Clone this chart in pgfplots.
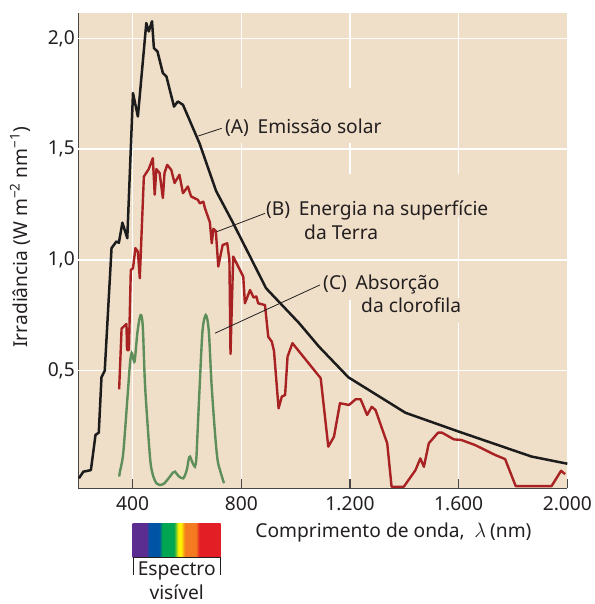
\documentclass[border=0pt]{standalone}
\usepackage{fontspec}
\setmainfont{Noto Sans}
\usepackage{pgfplots}
\pgfplotsset{compat=1.18}
\definecolor{bgc}{RGB}{240,223,200}
\definecolor{cA}{RGB}{28,28,28}
\definecolor{cB}{RGB}{168,34,36}
\definecolor{cC}{RGB}{94,143,90}
\definecolor{txt}{RGB}{35,31,32}
\definecolor{axc}{RGB}{70,70,70}
\definecolor{sPur}{RGB}{92,45,145}
\definecolor{sBlu}{RGB}{0,84,166}
\definecolor{sGre}{RGB}{0,166,81}
\definecolor{sYel}{RGB}{255,242,0}
\definecolor{sOra}{RGB}{244,123,32}
\definecolor{sRed}{RGB}{227,30,37}
\pgfdeclarehorizontalshading{spectrum}{100bp}{color(0bp)=(sPur); color(25bp)=(sPur); color(32.95bp)=(sPur);
 color(34.43bp)=(sBlu); color(40.11bp)=(sBlu); color(41.82bp)=(sGre); color(48.47bp)=(sGre);
 color(50.91bp)=(sYel); color(52.44bp)=(sYel); color(54.72bp)=(sOra); color(60.97bp)=(sOra);
 color(62.84bp)=(sRed); color(75bp)=(sRed); color(100bp)=(sRed)}
\newcommand\fs{\fontsize{19.2}{22}\selectfont}
\begin{document}
\begin{tikzpicture}[font=\fs]
\begin{axis}[
 scale only axis, width=488.9pt, height=475pt,
 xmin=200, xmax=2000, ymin=-0.031, ymax=2.113,
 axis lines=left, axis line style={-, axc, line width=1.2pt},
 xtick={400,800,1200,1600,2000}, xticklabels={400,800,1.200,1.600,2.000},
 ytick={0.5,1,1.5,2}, yticklabels={{0,5},{1,0},{1,5},{2,0}},
 tick style={axc, line width=1.2pt},
 major tick length=9pt,
 tick align=inside,
 xmajorgrids, grid style={white, line width=1.3pt},
 axis background/.style={fill=bgc},
 tick label style={font=\fs, text=txt},
 xticklabel style={yshift=-5pt},
 /pgf/number format/assume math mode=true,
 clip=false,
]
% masks behind labels (hide vertical grid lines)
\fill[bgc] (axis cs:728.7,1.5275) rectangle (axis cs:1328.9,1.7758);
\fill[bgc] (axis cs:879.6,1.1936) rectangle (axis cs:1737.6,1.3876);
\fill[bgc] (axis cs:1019.6,1.0221) rectangle (axis cs:1314.1,1.1936);
\fill[bgc] (axis cs:1089.5,0.8191) rectangle (axis cs:1553.5,1.0221);
\fill[bgc] (axis cs:1229.5,0.7153) rectangle (axis cs:1627.1,0.8281);
% horizontal grid lines
\draw[white, line width=1.3pt] (axis cs:200,0.5) -- (axis cs:2000,0.5);
\draw[white, line width=1.3pt] (axis cs:200,1) -- (axis cs:2000,1);
\draw[white, line width=1.3pt] (axis cs:200,1.5) -- (axis cs:2000,1.5);
\draw[white, line width=1.3pt] (axis cs:200,2) -- (axis cs:2000,2);

% (C) chlorophyll absorption
\addplot[cC, line width=2.4pt, smooth, tension=0.5] coordinates {
(350,0.022)(353,0.044)(365,0.127)(380,0.368)(390,0.533)(396,0.58)(400,0.565)
(404,0.545)(408,0.55)(418,0.68)(429,0.751)(437,0.70)(445,0.443)(457,0.217)
(466,0.08)(476,0.022)(487,-0.008)(498,-0.016)(515,-0.01)(537,0.022)(548,0.04)
(556,0.044)(568,0.025)(586,0.014)(599,0.052)(606,0.1)(611,0.112)(620,0.085)
(629,0.067)(634,0.1)(638,0.202)(647,0.443)(657,0.68)(669,0.751)(680,0.68)
(690,0.443)(703,0.217)(712,0.1)(721,0.052)(736,-0.008)};

% (B) energy at Earth's surface
\addplot[cB, line width=2.4pt, line join=round] coordinates {
(350,0.416)(359,0.69)(377,0.711)(379,0.593)(386,0.593)(393,0.955)(401,0.962)
(410,1.053)(419,1.037)(426,0.917)(441,1.376)(459,1.41)(474,1.459)(481,1.294)
(487,1.41)(499,1.392)(511,1.279)(517,1.392)(527,1.429)(542,1.406)(554,1.347)
(572,1.384)(585,1.301)(603,1.331)(615,1.286)(640,1.271)(647,1.255)(660,1.263)
(666,1.233)(684,1.17)(691,1.075)(697,1.14)(706,1.13)(715,0.97)(731,1.067)
(748,1.075)(756,1.0)(760,0.575)(770,1.015)(807,0.924)(813,0.804)(832,0.864)
(845,0.83)(855,0.835)(862,0.804)(887,0.796)(899,0.653)(912,0.631)(920,0.59)
(937,0.33)(949,0.383)(961,0.39)(970,0.563)(988,0.624)(1092,0.466)(1120,0.157)
(1141,0.202)(1163,0.353)(1196,0.345)(1221,0.371)(1239,0.371)(1263,0.30)
(1280,0.337)(1294,0.322)(1337,0.172)(1353,-0.024)(1398,-0.024)(1441,0.051)
(1459,0.104)(1472,0.066)(1490,0.172)(1524,0.22)(1539,0.22)(1582,0.19)
(1610,0.187)(1661,0.164)(1735,0.119)(1771,0.101)(1810,-0.021)(1942,-0.021)
(1977,0.048)(1992,0.033)};

% (A) solar emission
\addplot[cA, line width=2.5pt, line join=round] coordinates {
(202,0.014)(218,0.044)(246,0.051)(263,0.21)(275,0.22)(285,0.47)(297,0.50)
(322,1.053)(340,1.083)(349,1.077)(362,1.168)(380,1.098)(384,1.225)(401,1.753)
(419,1.647)(450,2.069)(459,2.031)(471,2.077)(478,1.956)(491,1.941)(511,1.843)
(524,1.828)(552,1.692)(566,1.715)(585,1.70)(646,1.526)(707,1.311)(768,1.17)
(830,1.02)(891,0.872)(1013,0.714)(1086,0.608)(1194,0.470)(1404,0.31)
(1600,0.225)(1869,0.112)(2000,0.08)};

% leaders and labels
\draw[txt, line width=0.8pt] (axis cs:641.5,1.559) -- (axis cs:727.6,1.594);
\draw[txt, line width=0.8pt] (axis cs:709.2,1.127) -- (axis cs:887,1.210);
\draw[txt, line width=0.8pt] (axis cs:703,0.669) -- (axis cs:1089.5,0.887);
\node[anchor=west, inner sep=0pt, text=txt] at (axis cs:739.8,1.595) {(A)\hspace{0.45em}Emissão solar};
\node[anchor=west, inner sep=0pt, text=txt] at (axis cs:890.7,1.221) {(B)\hspace{0.45em}Energia na superfície};
\node[anchor=west, inner sep=0pt, text=txt] at (axis cs:1030.6,1.126) {da Terra};
\node[anchor=west, inner sep=0pt, text=txt] at (axis cs:1100.7,0.887) {(C)\hspace{0.45em}Absorção};
\node[anchor=west, inner sep=0pt, text=txt] at (axis cs:1240.6,0.796) {da clorofila};

% axis labels
\node[text=txt] at (axis cs:1360,-0.232) {Comprimento de onda,\hspace{0.5em}$\lambda$\hspace{0.2em}(nm)};
\node[text=txt, rotate=90] at (axis cs:-15,1.103) {Irradiância (W m\textsuperscript{−2} nm\textsuperscript{−1})};

% visible spectrum bar
\shade[shading=spectrum] (axis cs:399.9,-0.344) rectangle (axis cs:723.9,-0.192);
\draw[txt, line width=0.8pt] (axis cs:402,-0.422) -- (axis cs:402,-0.345) -- (axis cs:721.4,-0.345) -- (axis cs:721.4,-0.422);
\node[text=txt] at (axis cs:562,-0.402) {Espectro};
\node[text=txt] at (axis cs:562,-0.499) {visível};
\end{axis}
\pgfresetboundingbox
\path[use as bounding box] ([xshift=-78.4pt,yshift=-115.7pt]current axis.south west) rectangle ++(594pt,604pt);
\end{tikzpicture}
\end{document}
